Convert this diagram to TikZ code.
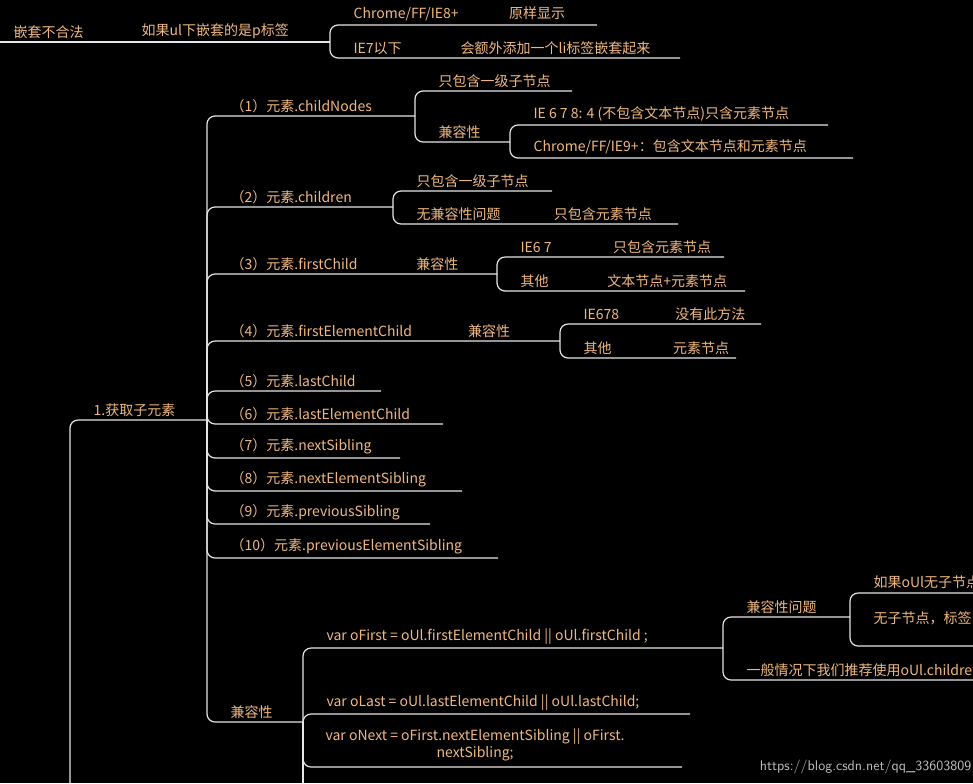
\documentclass[tikz,border=0pt]{standalone}
\usepackage{fontspec}
\setmainfont{Noto Sans CJK SC}
\definecolor{txtorange}{HTML}{F0B880}
\definecolor{linegrey}{HTML}{E6E6E6}
\tikzset{
  lbl/.style={anchor=south west, inner sep=1pt, text=txtorange, font=\fontsize{10.5}{12.5}\selectfont},
  edge/.style={draw=linegrey, line width=0.9pt, rounded corners=6pt}
}
\newcommand{\leaf}[6]{% name, branch x, parent y, y, end x, text
  \draw[edge] (#2,#3) |- (#5,#4);
  \node[lbl] (#1) at (#2+22,#4-2) {#6};
}
\begin{document}
\begin{tikzpicture}[x=0.75pt,y=-0.75pt]
  \fill[black] (0,0) rectangle (973,783);
  \clip (0,0) rectangle (973,783);

  % nesting
  \draw[edge] (0,42) -- (330,42);
  \node[lbl] (nest) at (12,40) {嵌套不合法};
  \node[lbl] (ulp) at (140,40) {如果ul下嵌套的是p标签};
  \leaf{chrome}{330}{42}{25}{597}{Chrome/FF/IE8+\hspace{3.6em}原样显示}
  \leaf{ie7}{330}{42}{58}{680}{IE7以下\hspace{4.2em}会额外添加一个li标签嵌套起来}

  % 1. children
  \draw[edge] (70,783) |- (207,420);
  \node[lbl] (get) at (92,418) {1.获取子元素};

  \leaf{cn}{207}{420}{116}{415}{（1）元素.childNodes}
  \leaf{cnone}{415}{116}{91}{572}{只包含一级子节点}
  \leaf{cncomp}{415}{116}{142}{510}{兼容性}
  \leaf{cnie}{510}{142}{125}{828}{IE 6 7 8: 4 (不包含文本节点)只含元素节点}
  \leaf{cnch}{510}{142}{158}{853}{Chrome/FF/IE9+：包含文本节点和元素节点}

  \leaf{ch}{207}{420}{207}{393}{（2）元素.children}
  \leaf{chone}{393}{207}{191}{552}{只包含一级子节点}
  \leaf{chno}{393}{207}{224}{678}{无兼容性问题\hspace{3.8em}只包含元素节点}

  \leaf{fc}{207}{420}{274}{497}{（3）元素.firstChild\hspace{4.2em}兼容性}
  \leaf{fcie}{497}{274}{257}{724}{IE6 7\hspace{4.4em}只包含元素节点}
  \leaf{fcot}{497}{274}{291}{745}{其他\hspace{4.2em}文本节点+元素节点}

  \leaf{fe}{207}{420}{341}{560}{（4）元素.firstElementChild\hspace{4em}兼容性}
  \leaf{feie}{560}{341}{324}{761}{IE678\hspace{4em}没有此方法}
  \leaf{feot}{560}{341}{358}{736}{其他\hspace{4.4em}元素节点}

  \leaf{lc}{207}{420}{391}{381}{（5）元素.lastChild}
  \leaf{le}{207}{420}{424}{443}{（6）元素.lastElementChild}
  \leaf{ns}{207}{420}{458}{400}{（7）元素.nextSibling}
  \leaf{nes}{207}{420}{491}{462}{（8）元素.nextElementSibling}
  \leaf{ps}{207}{420}{524}{430}{（9）元素.previousSibling}
  \leaf{pes}{207}{420}{558}{498}{（10）元素.previousElementSibling}

  % compatibility
  \leaf{comp}{207}{420}{722}{303}{兼容性}
  \draw[edge] (303,722) -- (303,783);
  \leaf{vfirst}{303}{722}{648}{723}{var oFirst = oUl.firstElementChild || oUl.firstChild ;}
  \leaf{vlast}{303}{722}{714}{690}{var oLast = oUl.lastElementChild || oUl.lastChild;}
  \draw[edge] (303,722) |- (682,767);
  \node[lbl, align=center, anchor=north west] (vnext) at (324,727)
    {var oNext = oFirst.nextElementSibling || oFirst.\\nextSibling;};
  \leaf{cq}{723}{648}{617}{850}{兼容性问题}
  \leaf{cqa}{850}{617}{593}{973}{如果oUl无子节点，标签}
  \draw[edge] (850,617) |- (973,646);
  \node[lbl] (cqb) at (872,627) {无子节点，标签};
  \leaf{gen}{723}{648}{680}{973}{一般情况下我们推荐使用oUl.children}

  \node[anchor=south east, inner sep=1pt, text=white!75!black, font=\fontsize{10.5}{12}\selectfont\sffamily] (mark) at (973,776) {https://blog.csdn.net/qq\_33603809};
\end{tikzpicture}
\end{document}
